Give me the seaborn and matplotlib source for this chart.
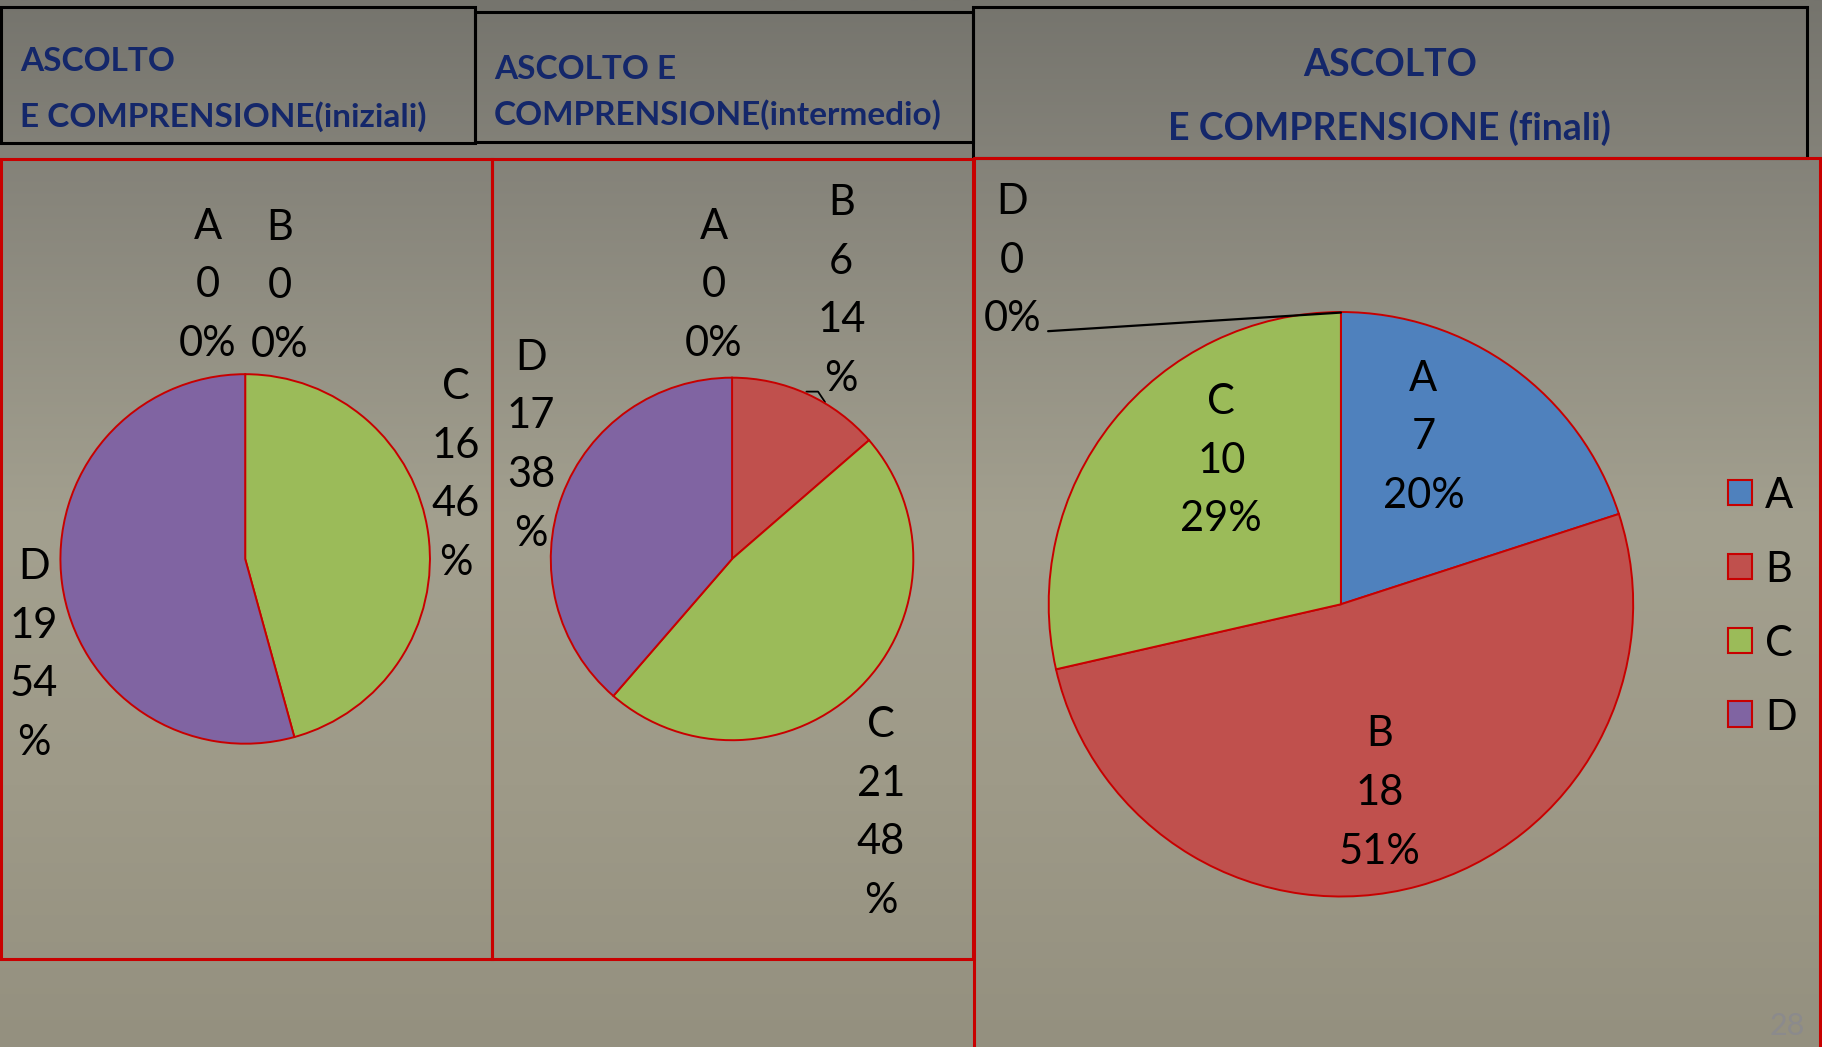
import numpy as np
import matplotlib
matplotlib.use("Agg")
import matplotlib.pyplot as plt
from matplotlib.patches import Rectangle
import seaborn as sns

# ---------------- data ----------------
categories = ["A", "B", "C", "D"]
values_iniziali = [0, 0, 16, 19]
values_intermedio = [0, 6, 21, 17]
values_finali = [7, 18, 10, 0]
pct_iniziali = ["0%", "0%", "46%", "54%"]
pct_intermedio = ["0%", "14%", "48%", "38%"]
pct_finali = ["20%", "51%", "29%", "0%"]
titles = ["ASCOLTO\nE COMPRENSIONE(iniziali)",
          "ASCOLTO E\nCOMPRENSIONE(intermedio)",
          "ASCOLTO\nE COMPRENSIONE (finali)"]
page_number = "28"

# ---------------- style ----------------
sns.set_style("white")
plt.rcParams["font.family"] = ["Lato", "DejaVu Sans"]
palette = sns.color_palette(["#4f81bd", "#c0504d", "#9bbb59", "#8064a2"])
EDGE = "#c80000"
NAVY = "#14276a"
DY = 3  # vertical text nudge

W, H = 1568, 901  # layout units
fig = plt.figure(figsize=(18.22, 10.47), dpi=100)


def frac_box(x0, y0, x1, y1):
    return [x0 / W, 1 - y1 / H, (x1 - x0) / W, (y1 - y0) / H]


# background gradient
bg = fig.add_axes([0, 0, 1, 1])
stops_y = [0.0, 0.15, 0.5, 0.75, 1.0]
stops_c = np.array([[117, 116, 109], [132, 130, 121], [163, 160, 143],
                    [158, 154, 136], [148, 144, 127]]) / 255
ys = np.linspace(0, 1, 600)
grad = np.stack([np.interp(ys, stops_y, stops_c[:, k]) for k in range(3)], axis=-1)[:, None, :]
bg.imshow(grad, aspect="auto", extent=(0, W, H, 0), interpolation="bilinear")
bg.set_xlim(0, W)
bg.set_ylim(H, 0)
bg.axis("off")
# small leader-line stub behind pie 2
bg.plot([694, 704, 710], [337, 337, 346], color="black", lw=1.3)

# ---------------- pies ----------------
pies = [(values_iniziali, 211, 481, 159),
        (values_intermedio, 630, 481, 156),
        (values_finali, 1154, 520, 251.5)]
for vals, cx, cy, r in pies:
    ax = fig.add_axes(frac_box(cx - r, cy - r, cx + r, cy + r))
    ax.pie(vals, colors=palette, startangle=90, counterclock=False, radius=1,
           wedgeprops=dict(edgecolor=EDGE, linewidth=1.4))
    ax.set_xlim(-1, 1)
    ax.set_ylim(-1, 1)
    ax.set_aspect("equal")
    ax.axis("off")

# ---------------- overlay ----------------
ov = fig.add_axes([0, 0, 1, 1])
ov.set_xlim(0, W)
ov.set_ylim(H, 0)
ov.axis("off")

# header boxes
for (x0, y0, x1, y1) in [(1, 6, 409, 123), (409, 10, 837, 122), (837, 6, 1555, 136)]:
    ov.add_patch(Rectangle((x0, y0), x1 - x0, y1 - y0, fill=False, ec="black", lw=2.2))
# red panels
ov.add_patch(Rectangle((1, 137), 422, 688, fill=False, ec=EDGE, lw=2.2))
ov.add_patch(Rectangle((423, 137), 414, 688, fill=False, ec=EDGE, lw=2.2))
ov.plot([838, 1568], [136, 136], color=EDGE, lw=2.2)
ov.plot([838, 838], [136, 901], color=EDGE, lw=2.2)
ov.plot([1566, 1566], [136, 901], color=EDGE, lw=2.2)

# titles
TFS = 24
t1 = titles[0].split("\n")
ov.text(17, 50 + DY, t1[0], ha="left", va="center", fontsize=TFS, fontweight="bold", color=NAVY)
ov.text(17, 97 + DY, t1[1], ha="left", va="center", fontsize=TFS, fontweight="bold", color=NAVY)
t2 = titles[1].split("\n")
ov.text(425, 57 + DY, t2[0], ha="left", va="center", fontsize=TFS, fontweight="bold", color=NAVY)
ov.text(425, 96 + DY, t2[1], ha="left", va="center", fontsize=TFS, fontweight="bold", color=NAVY)
t3 = titles[2].split("\n")
ov.text(1196, 53 + DY, t3[0], ha="center", va="center", fontsize=27, fontweight="bold", color=NAVY)
ov.text(1196, 107 + DY, t3[1], ha="center", va="center", fontsize=27, fontweight="bold", color=NAVY)

# data labels
STEP = 50.4
LFS = 30
label_pos = [
    {"A": (179, 192, False), "B": (241, 193, False), "C": (392, 330, True), "D": (29, 485, True)},
    {"A": (614, 192, False), "B": (724, 172, True), "C": (758, 621, True), "D": (457, 305, True)},
    {"A": (1225, 323, False), "B": (1187, 629, False), "C": (1051, 343, False), "D": (871, 171, False)},
]
data_sets = [(values_iniziali, pct_iniziali), (values_intermedio, pct_intermedio),
             (values_finali, pct_finali)]
for (vals, pcts), pos in zip(data_sets, label_pos):
    for cat, v, p in zip(categories, vals, pcts):
        x, y0, wrap = pos[cat]
        lines = [cat, str(v)] + ([p[:-1], "%"] if wrap else [p])
        for i, line in enumerate(lines):
            ov.text(x, y0 + DY + i * STEP, line, ha="center", va="center",
                    fontsize=LFS, color="black")

# leader line for D (finali)
ov.plot([902, 1154], [285, 269], color="black", lw=1.6)

# legend
for i, (cat, col) in enumerate(zip(categories, palette)):
    yc = 424 + i * 63.5
    ov.add_patch(Rectangle((1487, yc - 11), 21, 22, fc=col, ec=EDGE, lw=1.5))
    ov.text(1519, yc + DY, cat, ha="left", va="center", fontsize=LFS, color="black")

# page number
ov.text(1538, 880 + DY, page_number, ha="center", va="center", fontsize=22, color="#8b8a8c")

fig.savefig("out.png", dpi=100)
